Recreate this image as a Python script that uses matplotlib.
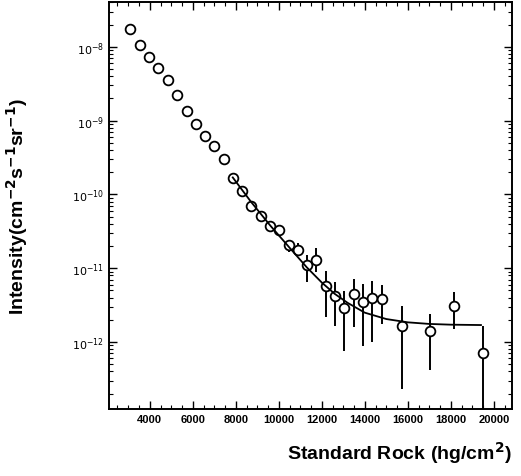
# Muon intensity vs. depth in standard rock

import numpy as np
import matplotlib.pyplot as plt
from matplotlib.ticker import FixedLocator, LogLocator, NullFormatter, MultipleLocator

plt.rcParams['font.family'] = ['Liberation Sans', 'DejaVu Sans']

# Daten
depth = np.array([3070, 3535, 3953, 4372, 4837, 5256, 5721, 6140, 6558, 6977,
                  7442, 7860, 8279, 8698, 9163, 9581, 10000, 10465, 10884, 11302,
                  11721, 12186, 12605, 13023, 13488, 13907, 14326, 14791, 15721, 17023,
                  18140, 19488], dtype=float)
intensity = np.array([1.75e-8, 1.06e-8, 7.3e-9, 5.2e-9, 3.57e-9, 2.23e-9, 1.36e-9, 9.0e-10,
                      6.2e-10, 4.55e-10, 3.03e-10, 1.67e-10, 1.11e-10, 6.98e-11, 5.1e-11,
                      3.74e-11, 3.30e-11, 2.07e-11, 1.77e-11, 1.11e-11, 1.29e-11, 5.74e-12,
                      4.2e-12, 2.89e-12, 4.48e-12, 3.49e-12, 3.95e-12, 3.83e-12, 1.65e-12,
                      1.41e-12, 3.08e-12, 7.1e-13])
err_upper = np.array([1.8e-8, 1.1e-8, 7.5e-9, 5.35e-9, 3.67e-9, 2.3e-9, 1.4e-9, 9.3e-10,
                      6.4e-10, 4.7e-10, 3.13e-10, 1.73e-10, 1.16e-10, 7.3e-11, 5.4e-11,
                      4.0e-11, 3.5e-11, 2.4e-11, 2.2e-11, 1.51e-11, 1.88e-11, 9.2e-12,
                      6.5e-12, 4.9e-12, 7.1e-12, 6.1e-12, 6.7e-12, 5.9e-12, 3.08e-12,
                      2.4e-12, 4.76e-12, 1.65e-12])
err_lower = np.array([1.7e-8, 1.02e-8, 7.1e-9, 5.05e-9, 3.47e-9, 2.16e-9, 1.32e-9, 8.7e-10,
                      6.0e-10, 4.4e-10, 2.93e-10, 1.61e-10, 1.06e-10, 6.7e-11, 4.8e-11,
                      3.5e-11, 3.1e-11, 1.66e-11, 1.47e-11, 6.5e-12, 8.9e-12, 2.18e-12,
                      1.65e-12, 7.55e-13, 1.6e-12, 8.8e-13, 1.0e-12, 1.75e-12, 2.3e-13,
                      4.2e-13, 1.5e-12, 1.0e-14])

# Fit curve
fit_depth = np.array([7860, 8700, 9600, 10500, 11300, 12000, 12600, 13200, 14000,
                      15000, 16000, 17000, 18000, 19400], dtype=float)
fit_intensity = np.array([1.7e-10, 8.0e-11, 3.8e-11, 1.9e-11, 1.03e-11, 6.4e-12, 4.5e-12,
                          3.4e-12, 2.5e-12, 2.05e-12, 1.85e-12, 1.76e-12, 1.72e-12, 1.7e-12])

yticks = [1e-12, 1e-11, 1e-10, 1e-9, 1e-8]
ytick_labels = [r'$10^{-12}$', r'$10^{-11}$', r'$10^{-10}$', r'$10^{-9}$', r'$10^{-8}$']
xticks = [4000, 6000, 8000, 10000, 12000, 14000, 16000, 18000, 20000]

# Plot
fig = plt.figure(figsize=(5.21, 4.77), dpi=100)
ax = fig.add_axes([0.209, 0.140, 0.774, 0.854])

yerr = np.vstack([intensity - err_lower, err_upper - intensity])
ax.errorbar(depth, intensity, yerr=yerr, fmt='none', ecolor='black', elinewidth=1.4,
            capsize=0, zorder=2)
ax.plot(depth, intensity, 'o', markersize=7, markerfacecolor='white',
        markeredgecolor='black', markeredgewidth=1.3, zorder=3)
ax.plot(fit_depth, fit_intensity, '-', color='black', lw=1.3, zorder=4)

ax.set_yscale('log')
ax.set_xlim(2100, 20850)
ax.set_ylim(1.23e-13, 4.07e-8)

ax.yaxis.set_major_locator(FixedLocator(yticks))
ax.set_yticklabels(ytick_labels)
ax.yaxis.set_minor_locator(LogLocator(base=10, subs=np.arange(2, 10)))
ax.yaxis.set_minor_formatter(NullFormatter())
ax.set_xticks(xticks)
ax.set_xticklabels([str(t) for t in xticks], fontweight='bold')
ax.xaxis.set_minor_locator(MultipleLocator(500))

ax.tick_params(which='both', direction='in', top=True, right=True, labelsize=8)
ax.tick_params(which='major', length=6, width=1)
ax.tick_params(which='minor', length=3, width=0.8)
for s in ax.spines.values():
    s.set_linewidth(1.4)

ax.set_ylabel(r'Intensity(cm$^{\mathbf{-2}}$s$^{\mathbf{-1}}$sr$^{\mathbf{-1}}$)',
              fontsize=14, fontweight='bold')
ax.yaxis.set_label_coords(-0.195, 0.5)
fig.text(0.983, 0.05, r'Standard Rock (hg/cm$^{\mathbf{2}}$)', fontsize=14,
         fontweight='bold', ha='right', va='center')

fig.savefig('out.png', dpi=100)
